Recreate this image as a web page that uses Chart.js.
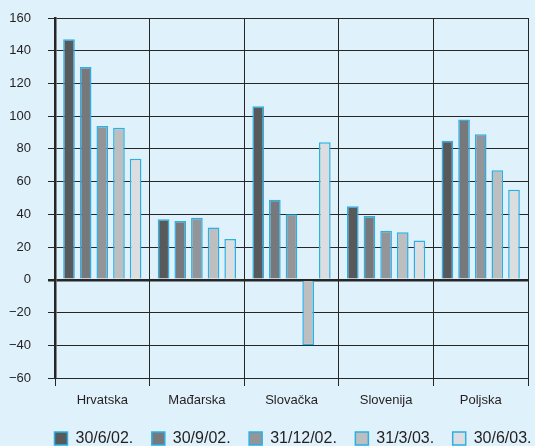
<!DOCTYPE html>
<html>
<head>
<meta charset="utf-8">
<script src="https://cdn.jsdelivr.net/npm/chart.js@4"></script>
<style>
  html, body { margin: 0; padding: 0; background: #dff1fb; }
  #wrap { width: 535px; height: 446px; }
</style>
</head>
<body>
<div id="wrap"><canvas id="chart" width="535" height="446"></canvas></div>
<script>
const countries = ['Hrvatska', 'Mađarska', 'Slovačka', 'Slovenija', 'Poljska'];
const periods = ['30/6/02.', '30/9/02.', '31/12/02.', '31/3/03.', '30/6/03.'];
const jun02 = [147, 37, 106, 45, 85];
const sep02 = [130, 36, 49, 39, 98];
const dec02 = [94, 38, 40, 30, 89];
const mar03 = [93, 32, -40, 29, 67];
const jun03 = [74, 25, 84, 24, 55];
const yTicks = [160, 140, 120, 100, 80, 60, 40, 20, 0, -20, -40, -60];

const fills = ['#58595b', '#77787b', '#939598', '#bdbec0', '#dcddde'];
const edge = '#29b0e6';
const ink = '#231f20';
const gridDark = '#262626';

const series = [jun02, sep02, dec02, mar03, jun03];
const datasets = series.map((vals, i) => ({
  label: periods[i],
  data: vals,
  backgroundColor: fills[i],
  borderColor: edge,
  borderWidth: 1.5,
  categoryPercentage: 0.88,
  barPercentage: 0.7
}));

// squeeze the legend box and nudge it right like the printed original
const legendTweak = {
  id: 'legendTweak',
  beforeInit(chart) {
    const fit = chart.legend.fit;
    chart.legend.fit = function () {
      fit.call(this);
      this.height = 34;
    };
  },
  afterLayout(chart) {
    chart.legend.left += 29;
    chart.legend.right += 29;
  }
};

const ctx = document.getElementById('chart').getContext('2d');
new Chart(ctx, {
  type: 'bar',
  data: { labels: countries, datasets },
  plugins: [legendTweak],
  options: {
    responsive: false,
    animation: false,
    layout: { padding: { top: 0, right: 7, left: 0, bottom: 0 } },
    plugins: {
      tooltip: { enabled: false },
      legend: {
        position: 'bottom',
        labels: {
          color: ink,
          font: { family: 'Liberation Sans', size: 16 },
          boxWidth: 13,
          boxHeight: 13,
          padding: 18.5
        }
      }
    },
    scales: {
      x: {
        offset: true,
        afterFit: (axis) => { axis.height = 34; },
        grid: {
          offset: true,
          color: gridDark,
          lineWidth: 1,
          tickLength: 8
        },
        border: { display: true, color: gridDark, width: 1 },
        ticks: {
          color: ink,
          font: { family: 'Liberation Sans', size: 13 },
          padding: 7
        }
      },
      y: {
        min: -60,
        max: 160,
        afterFit: (axis) => { axis.width = 55; axis.paddingTop = 18; },
        afterBuildTicks: (axis) => { axis.ticks = yTicks.map(v => ({ value: v })); },
        grid: {
          color: gridDark,
          lineWidth: (c) => (c.tick && c.tick.value === 0 ? 2.5 : 1),
          tickLength: 7
        },
        border: { display: true, color: gridDark, width: 2.5 },
        ticks: {
          color: ink,
          font: { family: 'Liberation Sans', size: 13 },
          padding: 17,
          callback: (v) => (v < 0 ? '\u2212' + Math.abs(v) : v)
        }
      }
    }
  }
});
</script>
</body>
</html>
